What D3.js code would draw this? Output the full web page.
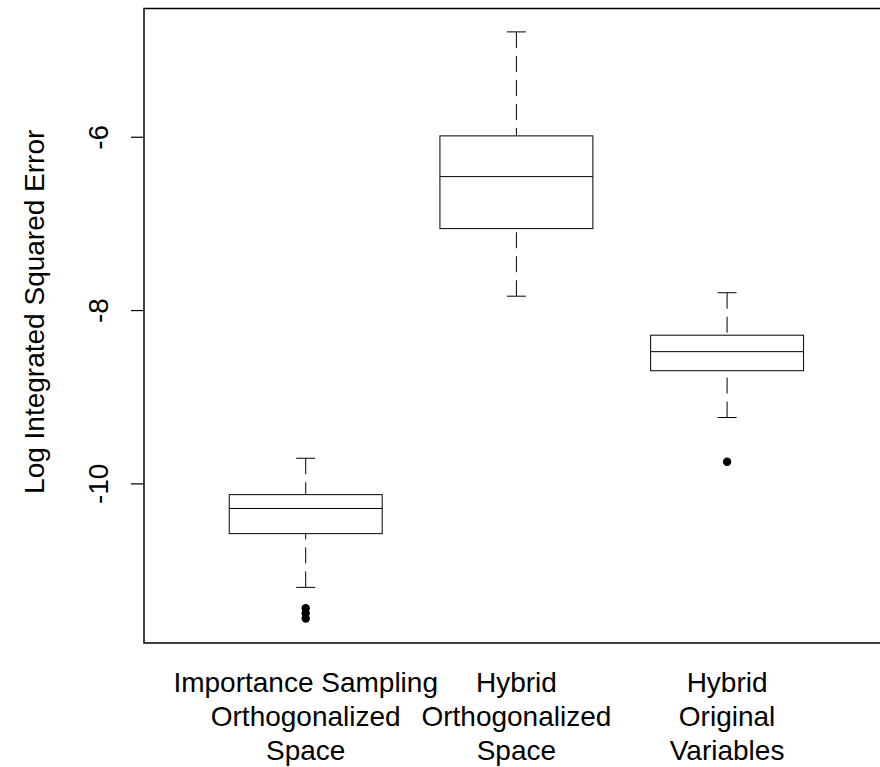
<!DOCTYPE html>
<html>
<head>
<meta charset="utf-8">
<script src="https://cdn.jsdelivr.net/npm/d3@7"></script>
<style>
  body { margin: 0; background: #fff; }
  text { font-family: "Liberation Sans", Arial, Helvetica, sans-serif; fill: #000; }
</style>
</head>
<body>
<div id="chart"></div>
<script>
var width = 880, height = 767;

// groups (each label is split over lines)
var categories = [
    ["Importance Sampling", "Orthogonalized", "Space"],
    ["Hybrid", "Orthogonalized", "Space"],
    ["Hybrid", "Original", "Variables"]
];
// box statistics
var whiskerLow  = [-11.20, -7.84, -9.24];
var q1          = [-10.58, -7.06, -8.70];
var medians     = [-10.29, -6.46, -8.48];
var q3          = [-10.13, -5.99, -8.29];
var whiskerHigh = [-9.71, -4.79, -7.80];
var outliers    = [[-11.44, -11.50, -11.56], [], [-9.75]];
var yTicks = [-10, -8, -6];

var boxes = categories.map(function(c, i) {
    return {pos: i + 1, label: c, lo: whiskerLow[i], q1: q1[i], med: medians[i],
            q3: q3[i], hi: whiskerHigh[i], out: outliers[i]};
});

var svg = d3.select("#chart")
    .append("svg")
        .attr("width", width)
        .attr("height", height);

var x = d3.scaleLinear().domain([0.2325, 3.7675]).range([144, 888.8]);
var y = d3.scaleLinear().domain([-11.842, -4.52]).range([643, 8.5]);

var boxHalf = 0.363, stapleHalf = 0.045;

// frame
svg.append("rect")
    .attr("x", x(0.2325))
    .attr("y", y(-4.52))
    .attr("width", x(3.7675) - x(0.2325))
    .attr("height", y(-11.842) - y(-4.52))
    .attr("fill", "none")
    .attr("stroke", "#000")
    .attr("stroke-width", 1.5);

// y axis
var yAxis = svg.append("g")
    .attr("transform", "translate(144,0)")
    .call(d3.axisLeft(y).tickValues(yTicks).tickSize(13).tickSizeOuter(0).tickFormat(d3.format("d")));
yAxis.select(".domain").remove();
yAxis.selectAll("line").attr("stroke", "#000").attr("stroke-width", 1.2);
yAxis.selectAll("text")
    .attr("x", 0).attr("dy", 0)
    .attr("transform", "translate(-36,0) rotate(-90)")
    .attr("text-anchor", "middle")
    .style("font-size", "28px")
    .style("font-family", "'Liberation Sans', Arial, sans-serif")
    .text(function(d) { return d < 0 ? "-" + Math.abs(d) : d; });

svg.append("text")
    .attr("transform", "translate(44," + y(-8.02) + ") rotate(-90)")
    .attr("text-anchor", "middle")
    .style("font-size", "28px")
    .text("Log Integrated Squared Error");

// boxes
var g = svg.selectAll(".box")
    .data(boxes)
    .join("g")
    .attr("class", "box");

// dashed whiskers, drawn from whisker end toward box
g.append("line")
    .attr("x1", function(d) { return x(d.pos); })
    .attr("x2", function(d) { return x(d.pos); })
    .attr("y1", function(d) { return y(d.hi); })
    .attr("y2", function(d) { return y(d.q3); })
    .attr("stroke", "#000").attr("stroke-dasharray", "16,8");
g.append("line")
    .attr("x1", function(d) { return x(d.pos); })
    .attr("x2", function(d) { return x(d.pos); })
    .attr("y1", function(d) { return y(d.lo); })
    .attr("y2", function(d) { return y(d.q1); })
    .attr("stroke", "#000").attr("stroke-dasharray", "16,8");

// staples
["lo", "hi"].forEach(function(k) {
    g.append("line")
        .attr("x1", function(d) { return x(d.pos - stapleHalf); })
        .attr("x2", function(d) { return x(d.pos + stapleHalf); })
        .attr("y1", function(d) { return y(d[k]); })
        .attr("y2", function(d) { return y(d[k]); })
        .attr("stroke", "#000");
});

g.append("rect")
    .attr("x", function(d) { return x(d.pos - boxHalf); })
    .attr("y", function(d) { return y(d.q3); })
    .attr("width", function(d) { return x(d.pos + boxHalf) - x(d.pos - boxHalf); })
    .attr("height", function(d) { return y(d.q1) - y(d.q3); })
    .attr("fill", "#fff")
    .attr("stroke", "#000");

g.append("line")
    .attr("x1", function(d) { return x(d.pos - boxHalf); })
    .attr("x2", function(d) { return x(d.pos + boxHalf); })
    .attr("y1", function(d) { return y(d.med); })
    .attr("y2", function(d) { return y(d.med); })
    .attr("stroke", "#000");

g.selectAll("circle")
    .data(function(d) { return d.out.map(function(v) { return {pos: d.pos, v: v}; }); })
    .join("circle")
    .attr("cx", function(d) { return x(d.pos); })
    .attr("cy", function(d) { return y(d.v); })
    .attr("r", 4.2)
    .attr("fill", "#000");

// category labels
var lineY = [692, 726, 760];
svg.selectAll(".cat")
    .data(boxes)
    .join("text")
    .attr("class", "cat")
    .attr("text-anchor", "middle")
    .style("font-size", "28px")
    .each(function(d) {
        var t = d3.select(this);
        d.label.forEach(function(s, j) {
            t.append("tspan").attr("x", x(d.pos)).attr("y", lineY[j]).text(s);
        });
    });
</script>
</body>
</html>
